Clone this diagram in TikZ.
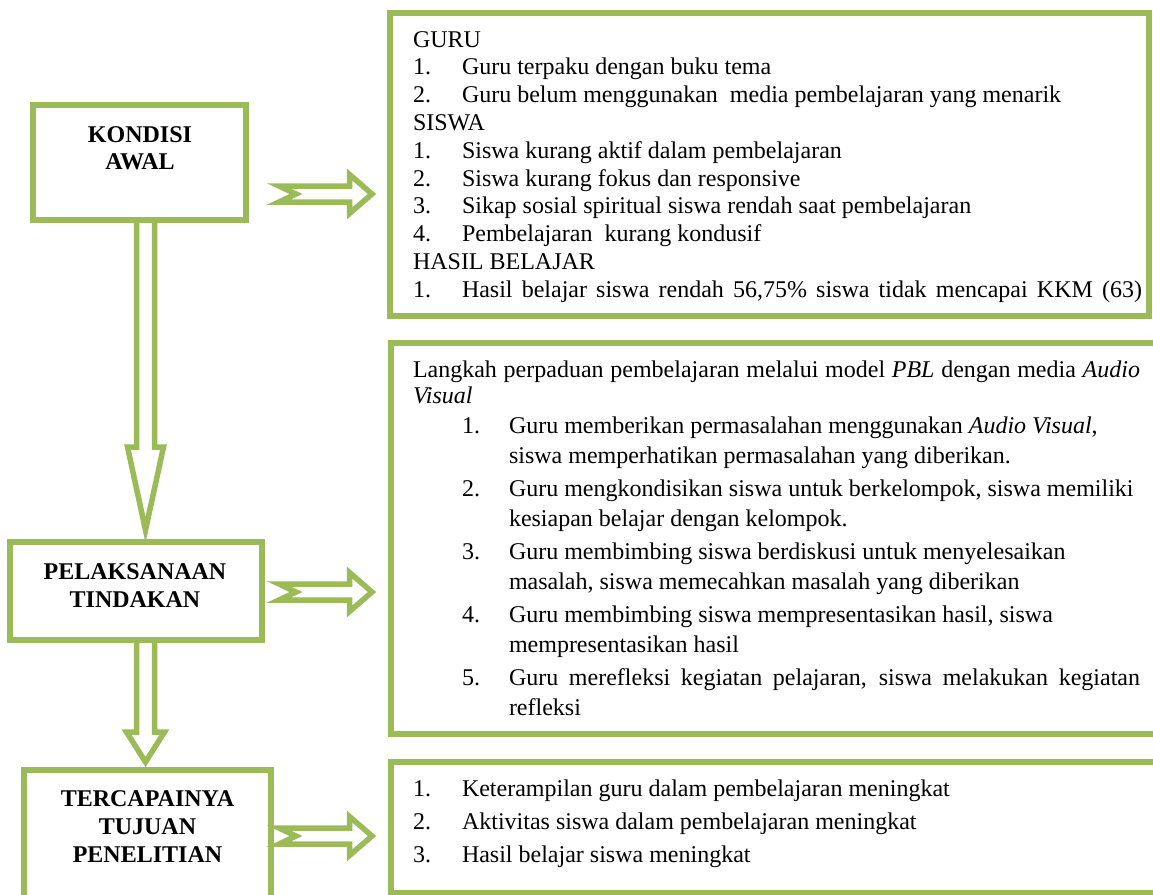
\documentclass[tikz,border=0pt]{standalone}
\usepackage{fontspec}
\setmainfont{Liberation Serif}
\usetikzlibrary{calc}
\definecolor{olivegreen}{HTML}{9BBB59}
\begin{document}
\begin{tikzpicture}[x=1pt,y=-1pt,
  box/.style={draw=olivegreen, line width=6pt, fill=white, inner sep=0pt, outer sep=0pt, rectangle},
  blockarrow/.style={draw=olivegreen, line width=5.5pt, line join=miter},
  body/.style={anchor=base west, inner sep=0pt, outer sep=0pt, font=\fontsize{24}{28}\selectfont},
  head/.style={anchor=base, inner sep=0pt, outer sep=0pt, font=\fontsize{24}{28}\selectfont\bfseries}]
\fill[white] (0,0) rectangle (1153,894);
\useasboundingbox (0,0) rectangle (1153,894);
\clip (0,0) rectangle (1153,894);

% left boxes
\node[box, minimum width=213pt, minimum height=115pt] (k) at (139.5,162.5) {};
\node[box, minimum width=252pt, minimum height=98pt] (p) at (136,591) {};
\node[box, minimum width=247pt, minimum height=128pt] (t) at (147.5,834) {};
% right boxes
\node[box, minimum width=759pt, minimum height=303pt] (r1) at (769.5,164.5) {};
\node[box, minimum width=790pt, minimum height=391pt] (r2) at (785.5,538) {};
\node[box, minimum width=790pt, minimum height=131pt] (r3) at (786,827.5) {};

% down arrows
\draw[blockarrow] let \p1=($(k.south)+(6,0)$), \p2=(p.north) in
  (\x1-9pt,\y1) -- (\x1-9pt,\y2+95pt) -- (\x1-18pt,\y2+95pt) -- (\x1,\y2+12pt)
  -- (\x1+18pt,\y2+95pt) -- (\x1+9pt,\y2+95pt) -- (\x1+9pt,\y1);
\draw[blockarrow] let \p1=($(p.south)+(9.5,0)$), \p2=(t.north) in
  (\x1-9pt,\y1) -- (\x1-9pt,\y2+38pt) -- (\x1-19pt,\y2+38pt) -- (\x1,\y2+8pt)
  -- (\x1+19pt,\y2+38pt) -- (\x1+9pt,\y2+38pt) -- (\x1+9pt,\y1);

% right arrows
\coordinate (a1) at (279,194);
\coordinate (a2) at (279,592);
\coordinate (a3) at (279,836);
\foreach \a in {a1,a2,a3}{
  \draw[blockarrow] (\a) ++(0,-8) -- ++(70.5,0) -- ++(0,-11.5) -- ++(22.5,19.5)
    -- ++(-22.5,19.5) -- ++(0,-11.5) -- ++(-70.5,0) -- ++(17,-8) -- cycle;
}

% left headings
\node[head] (k1) at (140,142) {KONDISI};
\node[head] (k2) at (140,169) {AWAL};
\node[head] (p1) at (135,579) {PELAKSANAAN};
\node[head] (p2) at (135,607) {TINDAKAN};
\node[head] (t1) at (147.5,806) {TERCAPAINYA};
\node[head] (t2) at (147.5,834) {TUJUAN};
\node[head] (t3) at (147.5,862) {PENELITIAN};

% box 1 text
\node[body] (g0) at (413,47) {GURU};
\node[body] (g1n) at (413,74.8) {1.};
\node[body] (g1) at (462,74.8) {Guru terpaku dengan buku tema};
\node[body] (g2n) at (413,102.6) {2.};
\node[body] (g2) at (462,102.6) {Guru belum menggunakan\ \ media pembelajaran yang menarik};
\node[body] (s0) at (413,130.4) {SISWA};
\node[body] (s1n) at (413,158.2) {1.};
\node[body] (s1) at (462,158.2) {Siswa kurang aktif dalam pembelajaran};
\node[body] (s2n) at (413,186) {2.};
\node[body] (s2) at (462,186) {Siswa kurang fokus dan responsive};
\node[body] (s3n) at (413,213.8) {3.};
\node[body] (s3) at (462,213.8) {Sikap sosial spiritual siswa rendah saat pembelajaran};
\node[body] (s4n) at (413,241.6) {4.};
\node[body] (s4) at (462,241.6) {Pembelajaran\ \ kurang kondusif};
\node[body] (h0) at (413,269.4) {HASIL BELAJAR};
\node[body] (h1n) at (413,297.2) {1.};
\node[body] (h1) at (462,297.2) {\makebox[680pt][s]{Hasil belajar siswa rendah 56,75\% siswa tidak mencapai KKM (63)}};

% box 2 text
\node[body] (l0) at (413,377) {\makebox[727pt][s]{Langkah perpaduan pembelajaran melalui model \textit{PBL} dengan media \textit{Audio}}};
\node[body] (l0b) at (413,403) {\textit{Visual}};
\node[body] (l1n) at (462,433) {1.};
\node[body] (l1) at (509,433) {Guru memberikan permasalahan menggunakan \textit{Audio Visual},};
\node[body] (l1b) at (509,463) {siswa memperhatikan permasalahan yang diberikan.};
\node[body] (l2n) at (462,496) {2.};
\node[body] (l2) at (509,496) {Guru mengkondisikan siswa untuk berkelompok, siswa memiliki};
\node[body] (l2b) at (509,526) {kesiapan belajar dengan kelompok.};
\node[body] (l3n) at (462,559) {3.};
\node[body] (l3) at (509,559) {Guru membimbing siswa berdiskusi untuk menyelesaikan};
\node[body] (l3b) at (509,589) {masalah, siswa memecahkan masalah yang diberikan};
\node[body] (l4n) at (462,622) {4.};
\node[body] (l4) at (509,622) {Guru membimbing siswa mempresentasikan hasil, siswa};
\node[body] (l4b) at (509,652) {mempresentasikan hasil};
\node[body] (l5n) at (462,685) {5.};
\node[body] (l5) at (509,685) {\makebox[631pt][s]{Guru merefleksi kegiatan pelajaran, siswa melakukan kegiatan}};
\node[body] (l5b) at (509,715) {refleksi};

% box 3 text
\node[body] (c1n) at (413,796) {1.};
\node[body] (c1) at (462,796) {Keterampilan guru dalam pembelajaran meningkat};
\node[body] (c2n) at (413,829) {2.};
\node[body] (c2) at (462,829) {Aktivitas siswa dalam pembelajaran meningkat};
\node[body] (c3n) at (413,862) {3.};
\node[body] (c3) at (462,862) {Hasil belajar siswa meningkat};
\end{tikzpicture}
\end{document}
